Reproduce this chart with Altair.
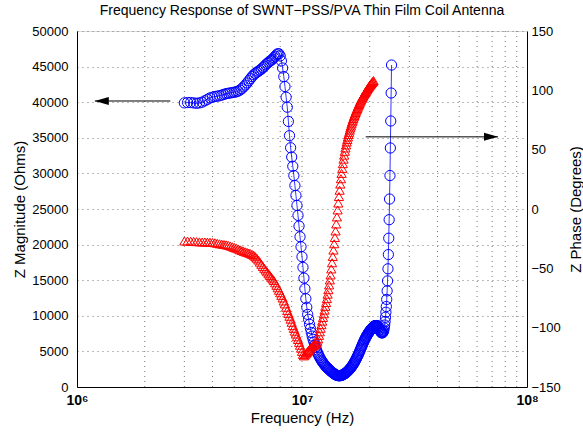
import altair as alt
import pandas as pd

# ---------------- data ----------------
# sweep frequencies in MHz
freq_mhz = [
    3.0, 3.1, 3.2, 3.3, 3.4, 3.5, 3.6, 3.7, 3.8, 3.9,
    4.0, 4.1, 4.2, 4.3, 4.4, 4.5, 4.6, 4.7, 4.8, 4.9,
    5.0, 5.1, 5.2, 5.3, 5.4, 5.5, 5.6, 5.7, 5.8, 5.9,
    6.0, 6.1, 6.2, 6.3, 6.4, 6.5, 6.6, 6.7, 6.8, 6.9,
    7.0, 7.1, 7.2, 7.3, 7.4, 7.5, 7.6, 7.7, 7.8, 7.9,
    8.0, 8.1, 8.2, 8.3, 8.4, 8.5, 8.6, 8.7, 8.8, 8.9,
    9.0, 9.1, 9.2, 9.3, 9.4, 9.5, 9.6, 9.7, 9.8, 9.9,
    10.0, 10.1, 10.2, 10.3, 10.4, 10.5, 10.6, 10.7, 10.8, 10.9,
    11.0, 11.1, 11.2, 11.3, 11.4, 11.5, 11.6, 11.7, 11.8, 11.9,
    12.0, 12.1, 12.2, 12.3, 12.4, 12.5, 12.6, 12.7, 12.8, 12.9,
    13.0, 13.1, 13.2, 13.3, 13.4, 13.5, 13.6, 13.7, 13.8, 13.9,
    14.0, 14.1, 14.2, 14.3, 14.4, 14.5, 14.6, 14.7, 14.8, 14.9,
    15.0, 15.1, 15.2, 15.3, 15.4, 15.5, 15.6, 15.7, 15.8, 15.9,
    16.0, 16.1, 16.2, 16.3, 16.4, 16.5, 16.6, 16.7, 16.8, 16.9,
    17.0, 17.1, 17.2, 17.3, 17.4, 17.5, 17.6, 17.7, 17.8, 17.9,
    18.0, 18.1, 18.2, 18.3, 18.4, 18.5, 18.6, 18.7, 18.8, 18.9,
    19.0, 19.1, 19.2, 19.3, 19.4, 19.5, 19.6, 19.7, 19.8, 19.9,
    20.0, 20.1, 20.2, 20.3, 20.4, 20.5, 20.6, 20.7, 20.8, 20.9,
    21.0, 21.1, 21.2, 21.3, 21.4, 21.5, 21.6, 21.7, 21.8, 21.9,
    22.0, 22.1, 22.2, 22.3, 22.4, 22.5, 22.6, 22.7, 22.8, 22.9,
    23.0, 23.1, 23.2, 23.3, 23.4, 23.5, 23.6, 23.7, 23.8, 23.9,
    24.0, 24.1, 24.2, 24.3, 24.4, 24.5, 24.6, 24.7, 24.8, 24.9,
    25.0,
]

# Z magnitude (Ohms), blue circles, left axis
blue_mag = [
    39900, 39950, 39950, 39900, 39850, 39900, 40000, 40200, 40400, 40600,
    40700, 40800, 40850, 40900, 41000, 41100, 41200, 41250, 41300, 41350,
    41400, 41450, 41550, 41700, 41900, 42150, 42400, 42700, 43000, 43300,
    43600, 43850, 44050, 44200, 44350, 44500, 44650, 44850, 45050, 45250,
    45450, 45600, 45750, 45900, 46050, 46250, 46450, 46650, 46800, 46800,
    46500, 45800, 44800, 43600, 42200, 40700, 39300, 37300, 35300, 33600,
    32300, 31000, 29700, 28300, 26900, 25500, 24100, 22600, 21100, 19700,
    18300, 16800, 15300, 13800, 12400, 11200, 10200, 9500, 8800, 8200,
    7650, 7150, 6700, 6300, 5900, 5550, 5200, 4900, 4620, 4370,
    4140, 3930, 3740, 3560, 3400, 3250, 3110, 2980, 2860, 2750,
    2650, 2550, 2450, 2350, 2260, 2170, 2080, 2000, 1920, 1850,
    1790, 1730, 1680, 1640, 1610, 1590, 1580, 1580, 1590, 1610,
    1640, 1680, 1720, 1770, 1820, 1880, 1940, 2010, 2080, 2160,
    2240, 2330, 2420, 2520, 2620, 2730, 2840, 2960, 3080, 3210,
    3340, 3480, 3620, 3770, 3920, 4080, 4240, 4410, 4580, 4750,
    4930, 5110, 5290, 5470, 5650, 5830, 6000, 6170, 6340, 6500,
    6650, 6800, 6940, 7070, 7200, 7320, 7440, 7550, 7660, 7760,
    7860, 7950, 8040, 8120, 8200, 8280, 8350, 8420, 8480, 8530,
    8570, 8600, 8620, 8630, 8630, 8620, 8590, 8540, 8460, 8360,
    8240, 8100, 7960, 7830, 7720, 7650, 7610, 7600, 7620, 7680,
    7800, 8000, 8300, 8700, 9200, 9800, 10500, 11300, 12300, 13500,
    14900, 16600, 18600, 20900, 23500, 26400, 29700, 33570, 37360, 41290,
    45220,
]

# Z phase (degrees), red triangles, right axis (3.0 .. 20.8 MHz)
red_phase = [
    -27.0, -27.0, -27.2, -27.3, -27.5, -27.7, -27.8, -27.8, -27.9, -28.0,
    -28.2, -28.5, -28.9, -29.3, -29.6, -29.9, -30.2, -30.6, -31.2, -31.8,
    -32.4, -33.0, -33.7, -34.4, -35.0, -35.6, -36.1, -36.6, -37.1, -37.6,
    -38.3, -39.0, -40.2, -41.5, -43.0, -44.8, -46.6, -48.4, -50.0, -51.5,
    -53.0, -54.6, -56.0, -57.4, -58.9, -60.3, -62.2, -64.3, -66.4, -68.5,
    -70.6, -72.8, -75.0, -77.5, -80.0, -82.8, -85.6, -88.0, -90.4, -92.8,
    -95.5, -98.3, -100.6, -103.0, -105.4, -107.7, -110.0, -112.4, -114.8, -117.3,
    -120.0, -122.5, -123.8, -123.0, -122.0, -121.0, -120.2, -119.2, -118.2, -117.2,
    -116.4, -115.7, -115.0, -114.6, -114.3, -114.0, -112.8, -111.5, -109.5, -106.5,
    -103.5, -100.5, -97.5, -94.5, -91.4, -88.3, -85.2, -82.0, -78.8, -75.5,
    -71.8, -68.0, -64.0, -59.8, -55.6, -50.5, -45.3, -40.0, -34.6, -29.3,
    -24.0, -18.5, -12.6, -6.7, -0.8, 5.0, 10.5, 15.8, 21.0, 25.5,
    30.0, 34.2, 38.2, 42.0, 45.4, 48.6, 51.4, 54.0, 56.4, 58.6,
    60.7, 62.7, 64.6, 66.5, 68.3, 70.0, 71.7, 73.3, 74.8, 76.2,
    77.6, 78.9, 80.1, 81.3, 82.5, 83.6, 84.7, 85.8, 86.9, 88.0,
    89.0, 90.0, 91.0, 91.9, 92.8, 93.6, 94.4, 95.2, 96.0, 96.8,
    97.5, 98.2, 98.9, 99.6, 100.3, 101.0, 101.7, 102.3, 102.9, 103.5,
    104.1, 104.7, 105.2, 105.7, 106.2, 106.7, 107.2, 107.7, 108.2,
]

x_major_hz = [1e6, 1e7, 1e8]
x_grid_hz = [2e6, 3e6, 4e6, 5e6, 6e6, 7e6, 8e6, 9e6, 1e7,
             2e7, 3e7, 4e7, 5e7, 6e7, 7e7, 8e7, 9e7]
mag_ticks = [0, 5000, 10000, 15000, 20000, 25000, 30000, 35000, 40000, 45000, 50000]
phase_ticks = [-150, -100, -50, 0, 50, 100, 150]

# annotation arrows (tip first)
arrow_left_hz = [1.2e6, 2.6e6]
arrow_left_mag = [40170, 40170]
arrow_right_hz = [74.3e6, 19.2e6]
arrow_right_phase = [60.8, 60.8]

# ---------------- frames ----------------
blue_df = pd.DataFrame({"f": [m * 1e6 for m in freq_mhz], "v": blue_mag})
red_df = pd.DataFrame({"f": [m * 1e6 for m in freq_mhz[:len(red_phase)]], "v": red_phase})
grid_df = pd.DataFrame({"f": x_grid_hz})
la_df = pd.DataFrame({"f": arrow_left_hz, "v": arrow_left_mag})
ra_df = pd.DataFrame({"f": arrow_right_hz, "v": arrow_right_phase})

FONT = "Liberation Sans"
BLUE = "#0000ff"
RED = "#ff0000"
GRID = "#777777"

xscale = alt.Scale(type="log", domain=[1e6, 1e8], nice=False)
xaxis = alt.Axis(
    values=x_major_hz,
    labelExpr="'10' + (datum.value < 5e6 ? '⁶' : (datum.value < 5e7 ? '⁷' : '⁸'))",
    title="Frequency (Hz)", grid=False, ticks=False, labelFlush=False, labelOverlap=False,
    labelFont=FONT, labelFontSize=14, labelFontWeight="bold", labelColor="black",
    labelPadding=6, titleFont=FONT, titleFontSize=15, titleFontWeight="normal",
    titleColor="black", titleY=35, titleBaseline="alphabetic",
    domainColor="black", domainWidth=1,
)


def X(field="f"):
    return alt.X(f"{field}:Q", scale=xscale, axis=xaxis)


yl_scale = alt.Scale(domain=[0, 50000], nice=False, zero=False)
yl_axis = alt.Axis(
    values=mag_ticks, format="d", orient="left", title="Z Magnitude (Ohms)",
    grid=True, gridDash=[1, 4], gridColor=GRID, gridWidth=1, ticks=False,
    labelFont=FONT, labelFontSize=13, labelColor="black", labelPadding=9,
    titleFont=FONT, titleFontSize=15, titleFontWeight="normal", titleColor="black",
    titleX=-53, titleBaseline="alphabetic",
    domainColor="black", domainWidth=1,
)
yr_scale = alt.Scale(domain=[-150, 150], nice=False, zero=False)
yr_axis = alt.Axis(
    values=phase_ticks, orient="right", title="Z Phase (Degrees)",
    grid=False, ticks=False,
    labelFont=FONT, labelFontSize=13, labelColor="black", labelPadding=4,
    titleFont=FONT, titleFontSize=15, titleFontWeight="normal", titleColor="black",
    titleAngle=270, titleX=53, titleBaseline="alphabetic",
    domainColor="black", domainWidth=1,
)


def YL():
    return alt.Y("v:Q", scale=yl_scale, axis=yl_axis)


def YR():
    return alt.Y("v:Q", scale=yr_scale, axis=yr_axis)


vgrid = alt.Chart(grid_df).mark_rule(
    strokeDash=[1, 4], color=GRID, strokeWidth=1
).encode(x=X())

blue_line = alt.Chart(blue_df).mark_line(color=BLUE, strokeWidth=0.8).encode(x=X(), y=YL())
blue_pts = alt.Chart(blue_df).mark_point(
    shape="circle", filled=False, color=BLUE, size=105, strokeWidth=1, opacity=1
).encode(x=X(), y=YL())

la_line = alt.Chart(la_df).mark_line(color="black", strokeWidth=1).encode(x=X(), y=YL())
la_head = alt.Chart(la_df.head(1)).mark_point(
    shape="M0,0L2,-0.57L2,0.57Z", filled=True, color="black", size=196, opacity=1, strokeWidth=0
).encode(x=X(), y=YL())

left_group = alt.layer(vgrid, blue_line, blue_pts, la_line, la_head)

red_pts = alt.Chart(red_df).mark_point(
    shape="triangle-up", filled=False, color=RED, size=85, strokeWidth=1, opacity=1
).encode(x=X(), y=YR())
ra_line = alt.Chart(ra_df).mark_line(color="black", strokeWidth=1).encode(x=X(), y=YR())
ra_head = alt.Chart(ra_df.head(1)).mark_point(
    shape="M0,0L-2,-0.57L-2,0.57Z", filled=True, color="black", size=196, opacity=1, strokeWidth=0
).encode(x=X(), y=YR())

right_group = alt.layer(red_pts, ra_line, ra_head)

chart = (
    alt.layer(left_group, right_group)
    .resolve_scale(y="independent")
    .properties(
        width=450,
        height=356,
        autosize=alt.AutoSizeParams(type="none"),
        padding={"left": 77, "top": 31, "right": 56, "bottom": 46},
        title=alt.TitleParams(
            "Frequency Response of SWNT−PSS/PVA Thin Film Coil Antenna",
            font=FONT, fontSize=14, fontWeight="normal", color="black",
            anchor="middle", offset=7,
        ),
    )
    .configure_view(stroke=None)
    .configure(background="white")
)

chart.save("out.html", embed_options={"renderer": "svg", "actions": False})
